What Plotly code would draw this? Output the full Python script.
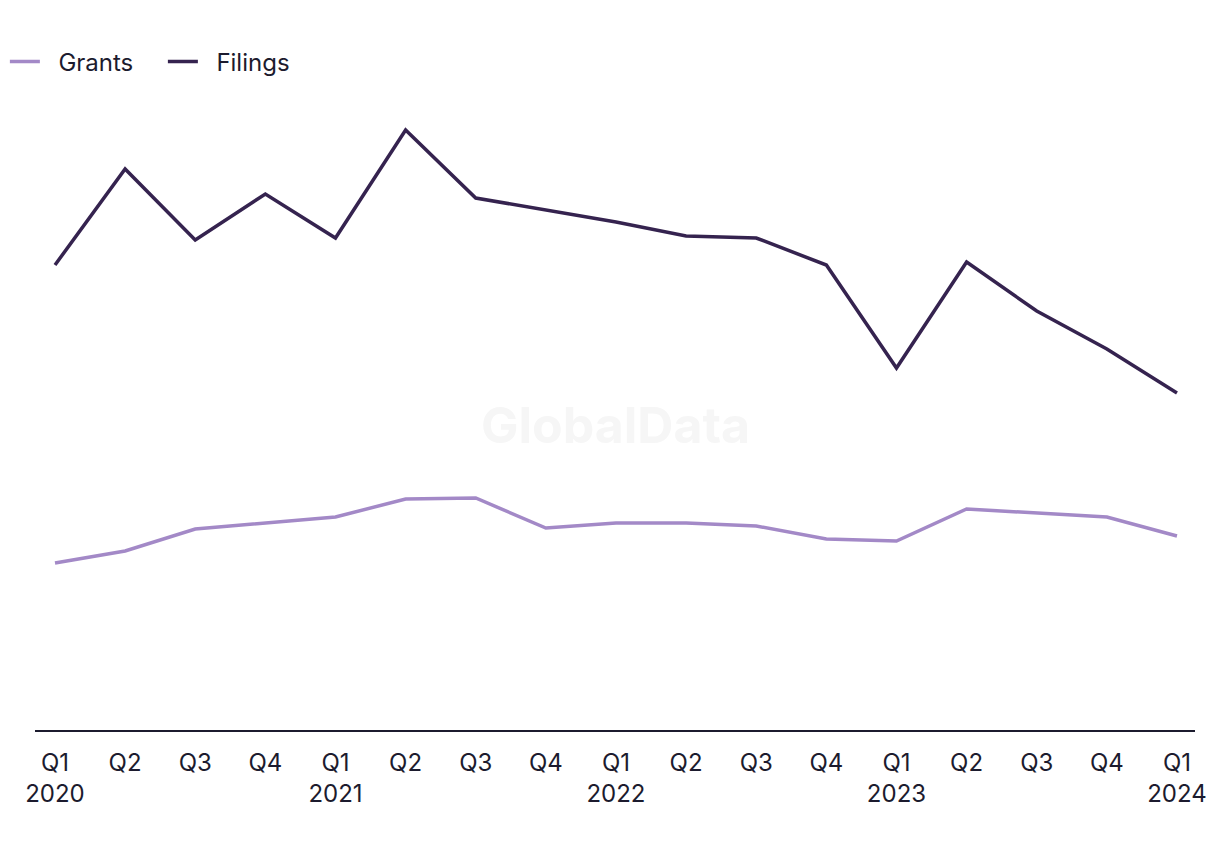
import plotly.graph_objects as go

quarters = ["Q1<br>2020", "Q2", "Q3", "Q4", "Q1<br>2021", "Q2", "Q3", "Q4",
            "Q1<br>2022", "Q2", "Q3", "Q4", "Q1<br>2023", "Q2", "Q3", "Q4", "Q1<br>2024"]
grants = [167, 179, 201, 207, 213, 231, 232, 202, 207, 207, 204, 191, 189, 221, 217, 213, 194]
filings = [465, 561, 490, 536, 492, 600, 532, 520, 508, 494, 492, 465, 362, 468, 419, 381, 337]

idx = list(range(len(quarters)))
FONT = "Inter, Roboto, sans-serif"
TXT = "#1c1b2e"
NB = "\u00a0"

fig = go.Figure()
fig.add_trace(go.Scatter(x=idx, y=grants, mode="lines", name=NB * 2 + "Grants",
                         line=dict(color="#a389c7", width=3.5)))
fig.add_trace(go.Scatter(x=idx, y=filings, mode="lines", name=NB * 2 + "Filings",
                         line=dict(color="#35234f", width=3.5)))

fig.add_annotation(text="<b>GlobalData</b>", x=0.5, y=0.469, xref="paper", yref="paper",
                   showarrow=False, font=dict(family=FONT, size=50, color="#f6f6f6"))

fig.update_layout(
    width=1220, height=850,
    margin=dict(l=35, r=25, t=80, b=120, autoexpand=False),
    paper_bgcolor="white", plot_bgcolor="white",
    font=dict(family=FONT, size=24, color=TXT),
    showlegend=True,
    legend=dict(orientation="h", xref="container", x=0.004, yref="container", y=1 - 62 / 850,
                xanchor="left", yanchor="middle", font=dict(size=24, color=TXT),
                itemwidth=30, traceorder="normal", entrywidth=113),
    xaxis=dict(range=[-0.285, 16.257], tickmode="array", tickvals=idx, ticktext=quarters,
               showgrid=False, zeroline=False, showline=True, linecolor=TXT, linewidth=2,
               ticks="", ticklabelstandoff=10, tickfont=dict(size=24, color=TXT)),
    yaxis=dict(range=[0, 650], visible=False, showgrid=False, zeroline=False),
)

fig.write_html("out.html")
